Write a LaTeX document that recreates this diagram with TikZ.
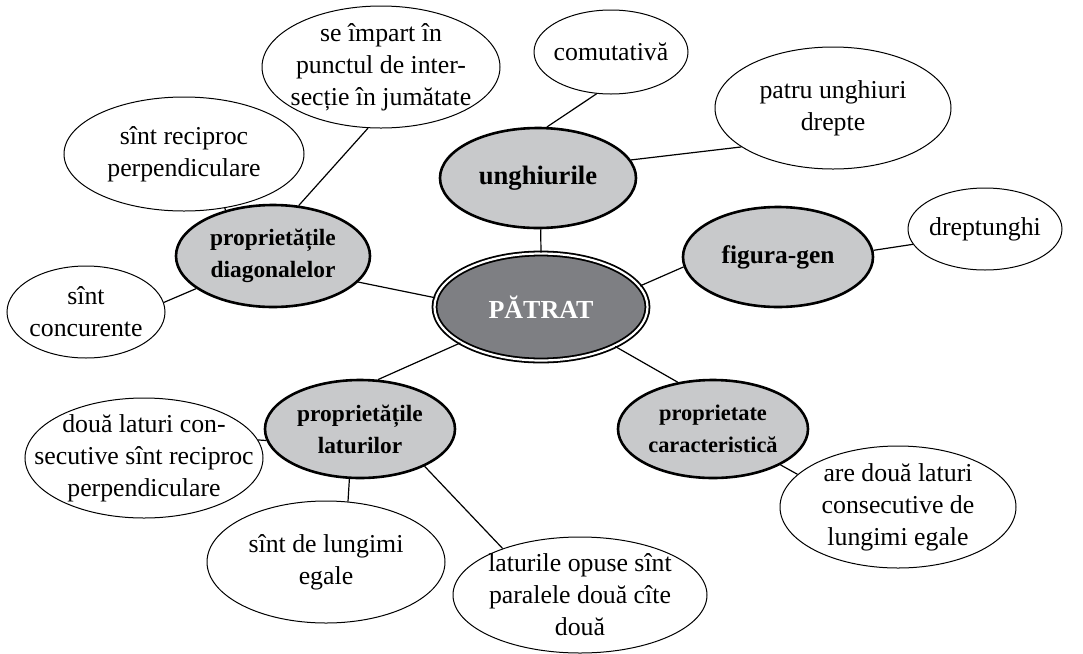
\documentclass[tikz,border=0pt]{standalone}
\usepackage{fontspec}
\setmainfont{Liberation Serif}
\usetikzlibrary{shapes.geometric}
\definecolor{topicgray}{HTML}{C8C9CB}
\definecolor{rootgray}{HTML}{7E7F83}
\tikzset{
	x=0.5pt, y=-0.5pt, % one unit is one pixel of the layout
	bubble/.style={draw, ellipse, inner xsep=-30pt, inner ysep=-15pt, align=center}, % size comes from minimum width/height only
	leaf/.style={bubble, line width=0.5pt, fill=white, font=\fontsize{12.9}{16}\selectfont}, % plain white bubbles
	topic/.style={bubble, line width=1.3pt, fill=topicgray, font=\bfseries\fontsize{12}{16}\selectfont}, % grey sub-topics
	root/.style={bubble, line width=0.9pt, double=white, double distance=1.1pt, fill=rootgray, text=white, font=\bfseries\fontsize{13}{16}\selectfont}, % the centre
	link/.style={line width=0.6pt},
}
\begin{document}
\begin{tikzpicture}
					\useasboundingbox[fill=white] (0,0) rectangle (1083,654);
					\node[root, minimum width=106.5pt, minimum height=53.5pt] (P) at (541,307) {PĂTRAT};
					\node[topic, minimum width=98pt, minimum height=50pt, font=\bfseries\fontsize{13.3}{16}\selectfont] (unghi) at (538,178) {unghiurile};
					\node[topic, minimum width=95pt, minimum height=50pt, font=\bfseries\fontsize{12.7}{16}\selectfont] (fig) at (778,257) {figura-gen};
					\node[topic, minimum width=97pt, minimum height=51pt, font=\bfseries\fontsize{11.7}{16}\selectfont] (diag) at (273,256) {proprietățile\\diagonalelor};
					\node[topic, minimum width=95pt, minimum height=49pt, font=\bfseries\fontsize{11.7}{16}\selectfont] (lat) at (360,429) {proprietățile\\laturilor};
					\node[topic, minimum width=95pt, minimum height=49pt, font=\bfseries\fontsize{11.2}{16}\selectfont] (car) at (713,429) {proprietate\\caracteristică};
					\node[leaf, minimum width=119pt, minimum height=61pt] (imp) at (381,67) {se împart în\\punctul de inter-\\secție în jumătate};
					\node[leaf, minimum width=120pt, minimum height=57pt] (recip) at (184,154) {sînt reciproc\\perpendiculare};
					\node[leaf, minimum width=79pt, minimum height=46pt] (conc) at (86,312) {sînt\\concurente};
					\node[leaf, minimum width=77pt, minimum height=42pt] (comut) at (611,52) {comutativă};
					\node[leaf, minimum width=118pt, minimum height=61pt] (patru) at (833,108) {patru unghiuri\\drepte};
					\node[leaf, minimum width=77pt, minimum height=41pt] (drept) at (985,229) {dreptunghi};
					\node[leaf, minimum width=119pt, minimum height=60pt] (doua) at (144,458) {două laturi con-\\secutive sînt reciproc\\perpendiculare};
					\node[leaf, minimum width=119pt, minimum height=61pt] (lung) at (326,562) {sînt de lungimi\\egale};
					\node[leaf, minimum width=127pt, minimum height=58pt] (opuse) at (580,595) {laturile opuse sînt\\paralele două cîte\\două};
					\node[leaf, minimum width=118pt, minimum height=61pt] (are) at (898,507) {are două laturi\\consecutive de\\lungimi egale};
					\draw[link]	(diag.63) edge (imp.258)
							(recip.-53) edge (diag.136)
							(conc.7) edge (diag.203)
							(diag.-17) edge (P.175)
							(unghi.80) edge (comut.251)
							(unghi.11) edge (patru.203)
							(P.90) edge (unghi.-87)
							(P.12) edge (fig.186)
							(fig.4) edge (drept.192)
							(P.204) edge (lat.70)
							(lat.187) edge (doua.9)
							(lat.258) edge (lung.70)
							(lat.-30) edge (opuse.149)
							(P.-28) edge (car.127)
							(car.-28) edge (are.162);
				\end{tikzpicture}
\end{document}
